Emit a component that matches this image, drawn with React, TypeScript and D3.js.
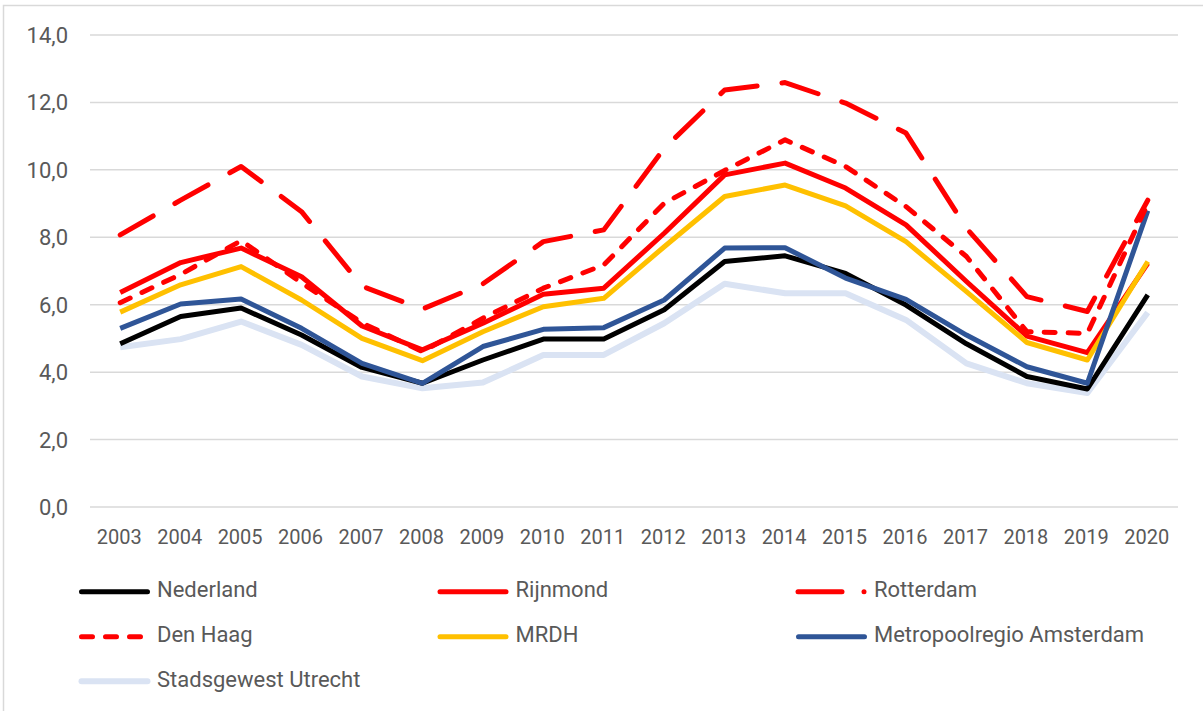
import React from "react";
import * as d3 from "d3";

const years = ["2003","2004","2005","2006","2007","2008","2009","2010","2011","2012","2013","2014","2015","2016","2017","2018","2019","2020"];
const yTicks = [0, 2, 4, 6, 8, 10, 12, 14];
const yTickLabels = ["0,0", "2,0", "4,0", "6,0", "8,0", "10,0", "12,0", "14,0"];

const nederland = [4.84, 5.65, 5.90, 5.10, 4.14, 3.67, 4.36, 4.98, 4.98, 5.85, 7.28, 7.45, 6.93, 5.99, 4.84, 3.87, 3.50, 6.29];
const rijnmond = [6.36, 7.25, 7.68, 6.83, 5.37, 4.66, 5.45, 6.31, 6.49, 8.12, 9.85, 10.20, 9.46, 8.37, 6.69, 5.07, 4.58, 7.23];
const rotterdam = [8.07, 9.10, 10.10, 8.76, 6.55, 5.87, 6.62, 7.87, 8.22, 10.64, 12.37, 12.59, 11.98, 11.09, 8.27, 6.24, 5.80, 9.10];
const denHaag = [6.06, 6.90, 7.90, 6.65, 5.46, 4.61, 5.60, 6.49, 7.18, 9.01, 9.98, 10.89, 10.10, 8.91, 7.43, 5.20, 5.15, 9.00];
const mrdh = [5.78, 6.59, 7.13, 6.14, 5.00, 4.34, 5.20, 5.94, 6.19, 7.72, 9.21, 9.55, 8.93, 7.87, 6.39, 4.88, 4.36, 7.28];
const amsterdam = [5.30, 6.02, 6.17, 5.30, 4.26, 3.67, 4.76, 5.27, 5.32, 6.14, 7.68, 7.69, 6.79, 6.16, 5.10, 4.16, 3.67, 8.79];
const utrecht = [4.74, 4.98, 5.50, 4.81, 3.87, 3.52, 3.69, 4.51, 4.51, 5.45, 6.62, 6.34, 6.34, 5.55, 4.26, 3.67, 3.38, 5.77];

type S = { name: string; values: number[]; color: string; width: number; dash?: string; kind: string };

const series: S[] = [
  { name: "Nederland", values: nederland, color: "#000000", width: 5, kind: "solid" },
  { name: "Rijnmond", values: rijnmond, color: "#FF0000", width: 5, kind: "solid" },
  { name: "Rotterdam", values: rotterdam, color: "#FF0000", width: 5, dash: "38 25", kind: "lgdash" },
  { name: "Den Haag", values: denHaag, color: "#FF0000", width: 5, dash: "11 13", kind: "dash" },
  { name: "MRDH", values: mrdh, color: "#FFC000", width: 5, kind: "solid" },
  { name: "Metropoolregio Amsterdam", values: amsterdam, color: "#2F5597", width: 5, kind: "solid" },
  { name: "Stadsgewest Utrecht", values: utrecht, color: "#DAE3F3", width: 6, kind: "solid" },
];

const drawOrder = ["Stadsgewest Utrecht", "Nederland", "Rijnmond", "MRDH", "Metropoolregio Amsterdam", "Den Haag", "Rotterdam"];

export default function App() {
  const W = 1203, H = 711;
  const x = d3.scalePoint<string>().domain(years).range([90, 1178]).padding(0.5);
  const y = d3.scaleLinear().domain([0, 14]).range([507, 35]);
  const line = d3.line<number>().x((_, i) => x(years[i]) as number).y((d) => y(d));
  const textColor = "#595959";
  const font = "Roboto, 'Liberation Sans', sans-serif";

  const legendCols = [79, 437.5, 796];
  const legendRows = [591.7, 636.7, 681.3];

  return (
    <svg width={W} height={H} style={{ position: "absolute", left: 0, top: 0, background: "#fff" }} fontFamily={font}>
      <rect x={3.5} y={5.5} width={1300} height={800} fill="#fff" stroke="#D9D9D9" strokeWidth={1.5} />
      {yTicks.map((t, i) => (
        <g key={t}>
          <line x1={90} x2={1178} y1={y(t)} y2={y(t)} stroke="#D9D9D9" strokeWidth={1.5} />
          <text x={68} y={y(t) + 8} textAnchor="end" fontSize={22} fill={textColor}>{yTickLabels[i]}</text>
        </g>
      ))}
      {years.map((yr) => (
        <text key={yr} x={(x(yr) as number) - 1} y={544} textAnchor="middle" fontSize={20} fill={textColor}>{yr}</text>
      ))}
      {drawOrder.map((n) => {
        const s = series.find((q) => q.name === n)!;
        return (
          <path key={n} d={line(s.values) || ""} fill="none" stroke={s.color} strokeWidth={s.width}
            strokeDasharray={s.dash} strokeLinecap={s.dash ? "round" : "butt"} strokeLinejoin="round" />
        );
      })}
      {series.map((s, i) => {
        const cx = legendCols[i % 3];
        const cy = legendRows[Math.floor(i / 3)];
        let sample;
        if (s.kind === "lgdash") {
          sample = (
            <g>
              <line x1={cx + 2} x2={cx + 46} y1={cy} y2={cy} stroke={s.color} strokeWidth={5} strokeLinecap="round" />
              <circle cx={cx + 68} cy={cy} r={2.5} fill={s.color} />
            </g>
          );
        } else if (s.kind === "dash") {
          sample = <line x1={cx + 2.5} x2={cx + 70} y1={cy} y2={cy} stroke={s.color} strokeWidth={5} strokeDasharray="11 13" strokeLinecap="round" />;
        } else {
          sample = <line x1={cx + 2.5} x2={cx + 68.5} y1={cy} y2={cy} stroke={s.color} strokeWidth={s.width} strokeLinecap="round" />;
        }
        return (
          <g key={s.name}>
            {sample}
            <text x={cx + 78} y={cy + 5.5} fontSize={22} fill={textColor}>{s.name}</text>
          </g>
        );
      })}
    </svg>
  );
}
